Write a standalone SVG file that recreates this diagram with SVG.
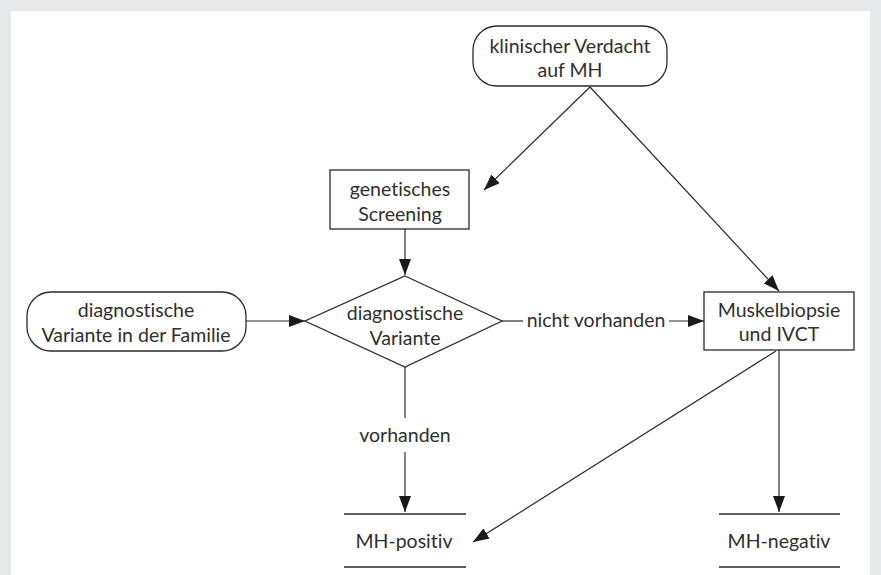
<svg xmlns="http://www.w3.org/2000/svg" width="881" height="575" viewBox="0 0 881 575">
<defs>
<marker id="ah" markerUnits="userSpaceOnUse" markerWidth="16" markerHeight="12" refX="16" refY="6" orient="auto">
<path d="M0,0 L16,6 L0,12 z" fill="#1a1a1a"/>
</marker>
<style>
.box{fill:#fff;stroke:#2a2a2a;stroke-width:1.3}
.t{font-family:Lato,"Open Sans","Liberation Sans",sans-serif;font-size:19.5px;fill:#2f2f2f;text-anchor:middle;font-variant-ligatures:none;font-feature-settings:"liga" 0,"dlig" 0}
.c{fill:none;stroke:#2a2a2a;stroke-width:1.2}
.r{stroke:#2a2a2a;stroke-width:1.3}
</style>
</defs>
<rect x="0" y="0" width="881" height="575" fill="#e6e7e9"/>
<rect x="11" y="11" width="859" height="564" fill="#fff"/>

<g id="connectors">
<line class="c" x1="590" y1="87" x2="484" y2="190" marker-end="url(#ah)"/>
<line class="c" x1="590" y1="87" x2="779" y2="291" marker-end="url(#ah)"/>
<line class="c" x1="405" y1="229" x2="405" y2="275" marker-end="url(#ah)"/>
<line class="c" x1="246" y1="321" x2="305" y2="321" marker-end="url(#ah)"/>
<line class="c" x1="502" y1="321" x2="523" y2="321"/>
<line class="c" x1="669" y1="321" x2="704" y2="321" marker-end="url(#ah)"/>
<line class="c" x1="405" y1="367" x2="405" y2="418"/>
<line class="c" x1="405" y1="452" x2="405" y2="512" marker-end="url(#ah)"/>
<line class="c" x1="779" y1="350" x2="779" y2="512" marker-end="url(#ah)"/>
<line class="c" x1="776" y1="351" x2="473" y2="542" marker-end="url(#ah)"/>
<text class="t" x="596" y="327">nicht vorhanden</text>
<text class="t" x="405" y="442">vorhanden</text>
</g>

<g id="n-verdacht">
<rect class="box" x="473" y="26" width="194" height="60" rx="24"/>
<text class="t" x="570" y="53">klinischer Verdacht</text>
<text class="t" x="570" y="77">auf MH</text>
</g>

<g id="n-screening">
<rect class="box" x="330" y="170" width="139" height="59"/>
<text class="t" x="400" y="196">genetisches</text>
<text class="t" x="400" y="221">Screening</text>
</g>

<g id="n-familie">
<rect class="box" x="27" y="292" width="219" height="59" rx="24"/>
<text class="t" x="136" y="317">diagnostische</text>
<text class="t" x="136" y="342">Variante in der Familie</text>
</g>

<g id="n-variante">
<polygon class="box" points="405,276 502,321 405,367 305,321"/>
<text class="t" x="405" y="320">diagnostische</text>
<text class="t" x="405" y="345">Variante</text>
</g>

<g id="n-biopsie">
<rect class="box" x="704" y="292" width="150" height="58"/>
<text class="t" x="779" y="317">Muskelbiopsie</text>
<text class="t" x="779" y="341">und IVCT</text>
</g>

<g id="n-positiv">
<line class="r" x1="344" y1="514" x2="466" y2="514"/>
<line class="r" x1="344" y1="567" x2="466" y2="567"/>
<text class="t" x="404" y="548">MH-positiv</text>
</g>

<g id="n-negativ">
<line class="r" x1="719" y1="514" x2="840" y2="514"/>
<line class="r" x1="719" y1="567" x2="840" y2="567"/>
<text class="t" x="779" y="548">MH-negativ</text>
</g>
</svg>
